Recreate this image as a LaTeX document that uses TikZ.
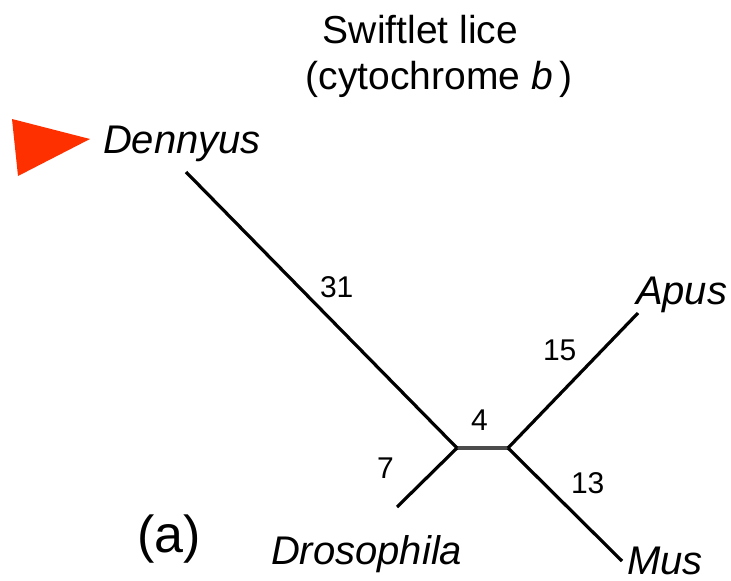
\documentclass[tikz,border=0pt]{standalone}
\usepackage{fontspec}
\setmainfont{Liberation Sans}
\begin{document}
\begin{tikzpicture}[x=1pt,y=-1pt,
  branch/.style={line width=3.2pt,black},
  inner/.style={line width=4.5pt,black!70},
  taxon/.style={anchor=base west,inner sep=0pt,outer sep=0pt,font=\fontsize{40}{48}\selectfont\itshape},
  blen/.style={anchor=base west,inner sep=0pt,outer sep=0pt,font=\fontsize{30}{36}\selectfont},
  ttl/.style={anchor=base,inner sep=0pt,outer sep=0pt,font=\fontsize{39}{46}\selectfont}]
\useasboundingbox (0,0) rectangle (731,581);
% internal nodes and tips
\coordinate (L) at (457,448);
\coordinate (R) at (508,448);
\coordinate (tD) at (186,172);
\coordinate (tA) at (638,313);
\coordinate (tM) at (622,561);
\coordinate (tDr) at (397,507);
% branches
\draw[inner] (L) -- (R);
\draw[branch] (L) -- (tD);
\draw[branch] (L) -- (tDr);
\draw[branch] (R) -- (tA);
\draw[branch] (R) -- (tM);
% red marker
\fill[fill={rgb,255:red,255;green,48;blue,0}] (12,119) -- (90,139) -- (18,176) -- cycle;
% taxa
\node[taxon] (dennyus) at (103,153) {Dennyus};
\node[taxon] (apus) at (636,304) {Apus};
\node[taxon] (mus) at (627,574) {Mus};
\node[taxon] (dros) at (271,564) {Drosophila};
% branch lengths
\node[blen] (n31) at (320,297) {31};
\node[blen] (n15) at (543,360) {15};
\node[blen] (n4) at (471,430) {4};
\node[blen] (n7) at (377,478) {7};
\node[blen] (n13) at (571,493) {13};
% titles
\node[ttl] (t1) at (420.5,43) {Swiftlet lice};
\node[ttl] (t2) at (439,89) {(cytochrome \textit{b}\,)};
\node[anchor=base west,inner sep=0pt,outer sep=0pt,font=\fontsize{52}{60}\selectfont] (lab) at (137,552) {(a)};
\end{tikzpicture}
\end{document}
